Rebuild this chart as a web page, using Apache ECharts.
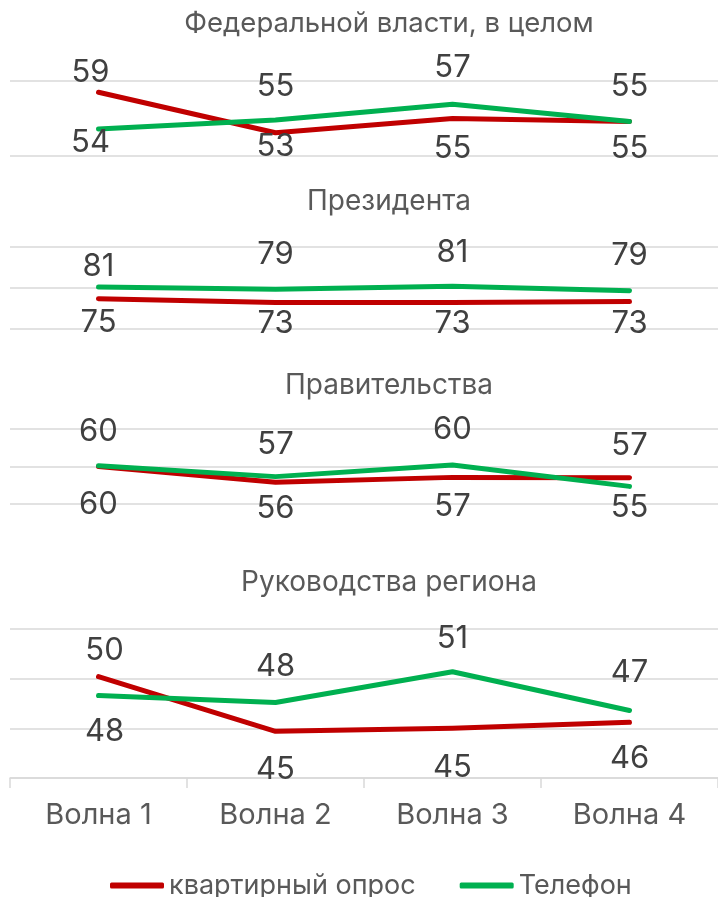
<!DOCTYPE html>
<html>
<head>
<meta charset="utf-8">
<script src="https://cdn.jsdelivr.net/npm/echarts@6/dist/echarts.min.js"></script>
<style>
  html, body { margin: 0; padding: 0; background: #fff; }
  #chart { width: 718px; height: 897px; }
</style>
</head>
<body>
<div id="chart"></div>
<script>
const categories = ['Волна 1', 'Волна 2', 'Волна 3', 'Волна 4'];
const panelTitles = ['Федеральной власти, в целом', 'Президента', 'Правительства', 'Руководства региона'];
const seriesNames = ['квартирный опрос', 'Телефон'];

// values (labels show them rounded)
const kvartFederal = [58.5, 53.1, 55.0, 54.6];
const phoneFederal = [53.6, 54.8, 56.9, 54.6];
const kvartPresident = [74.8, 72.9, 72.9, 73.4];
const phonePresident = [80.5, 79.4, 80.8, 78.7];
const kvartGov = [60.0, 55.8, 57.1, 57.0];
const phoneGov = [60.2, 57.3, 60.4, 54.7];
const kvartRegion = [50.2, 44.7, 45.0, 45.6];
const phoneRegion = [48.3, 47.6, 50.7, 46.8];

// y axis ranges for each panel
const axisMin = [50, 60, 50, 40];
const axisMax = [60, 100, 70, 55];
const axisStep = [10, 20, 10, 5];

// layout of each panel
const panels = [
  { top: 81, height: 75, titleTop: 5 },
  { top: 247, height: 82, titleTop: 183 },
  { top: 429, height: 75, titleTop: 367 },
  { top: 629, height: 149, titleTop: 564 }
];

// label shifts from the point (vertical), per panel: [red, green]
const labelDy = [
  [[-20, 14, 30, 27], [14, -33, -37, -35]],
  [[24, 21, 21, 22], [-20, -35, -34, -35]],
  [[38, 26, 29, -32], [-34, -32, -35, 21]],
  [[-26, 38, 39, 36], [36, -36, -33, -38]]
];
const firstDx = [-8, 0, 0, 6];

const RED = '#C00000';
const GREEN = '#00B050';
const FONT = 'Inter';

const values = [
  [kvartFederal, phoneFederal],
  [kvartPresident, phonePresident],
  [kvartGov, phoneGov],
  [kvartRegion, phoneRegion]
];

const chart = echarts.init(document.getElementById('chart'));

const grid = [];
const xAxis = [];
const yAxis = [];
const series = [];
const title = [];

panels.forEach((p, i) => {
  const last = i === panels.length - 1;
  grid.push({ left: 10, right: -4, top: p.top, height: p.height });
  title.push({
    text: panelTitles[i],
    left: 384,
    textAlign: 'center',
    top: p.titleTop,
    textStyle: { fontFamily: FONT, fontSize: i === 0 ? 27.5 : 28, fontWeight: 'normal', color: '#595959' }
  });
  xAxis.push({
    type: 'category',
    gridIndex: i,
    data: categories,
    boundaryGap: true,
    show: last,
    axisLine: { show: last, lineStyle: { color: '#D9D9D9', width: 1.5 } },
    axisTick: { show: last, length: 10, lineStyle: { color: '#D9D9D9', width: 1.5 } },
    axisLabel: { show: last, margin: 23, fontFamily: FONT, fontSize: 29, color: '#595959' },
    splitLine: { show: false }
  });
  yAxis.push({
    type: 'value',
    gridIndex: i,
    min: axisMin[i],
    max: axisMax[i],
    interval: axisStep[i],
    axisLine: { show: false },
    axisTick: { show: false },
    axisLabel: { show: false },
    splitLine: { show: true, lineStyle: { color: '#D9D9D9', width: 1.5 } }
  });
  [RED, GREEN].forEach((color, s) => {
    series.push({
      name: seriesNames[s],
      type: 'line',
      xAxisIndex: i,
      yAxisIndex: i,
      symbol: 'circle',
      symbolSize: 1,
      showSymbol: true,
      itemStyle: { color: color },
      lineStyle: { color: color, width: 5, cap: 'round', join: 'round' },
      animation: false,
      z: 2 + s,
      data: values[i][s].map((v, k) => ({
        value: v,
        label: { offset: [k === 0 ? firstDx[i] : 0, labelDy[i][s][k]] }
      })),
      label: {
        show: true,
        position: 'inside',
        fontFamily: FONT,
        fontSize: 31,
        color: '#404040',
        formatter: (params) => String(Math.round(params.value))
      }
    });
  });
});

chart.setOption({
  backgroundColor: '#ffffff',
  animation: false,
  title: title,
  legend: {
    data: seriesNames,
    top: 867,
    left: 105,
    itemWidth: 54,
    itemHeight: 6,
    itemGap: 44,
    icon: 'roundRect',
    textStyle: { fontFamily: FONT, fontSize: 27, color: '#595959' }
  },
  grid: grid,
  xAxis: xAxis,
  yAxis: yAxis,
  series: series
});
</script>
</body>
</html>
